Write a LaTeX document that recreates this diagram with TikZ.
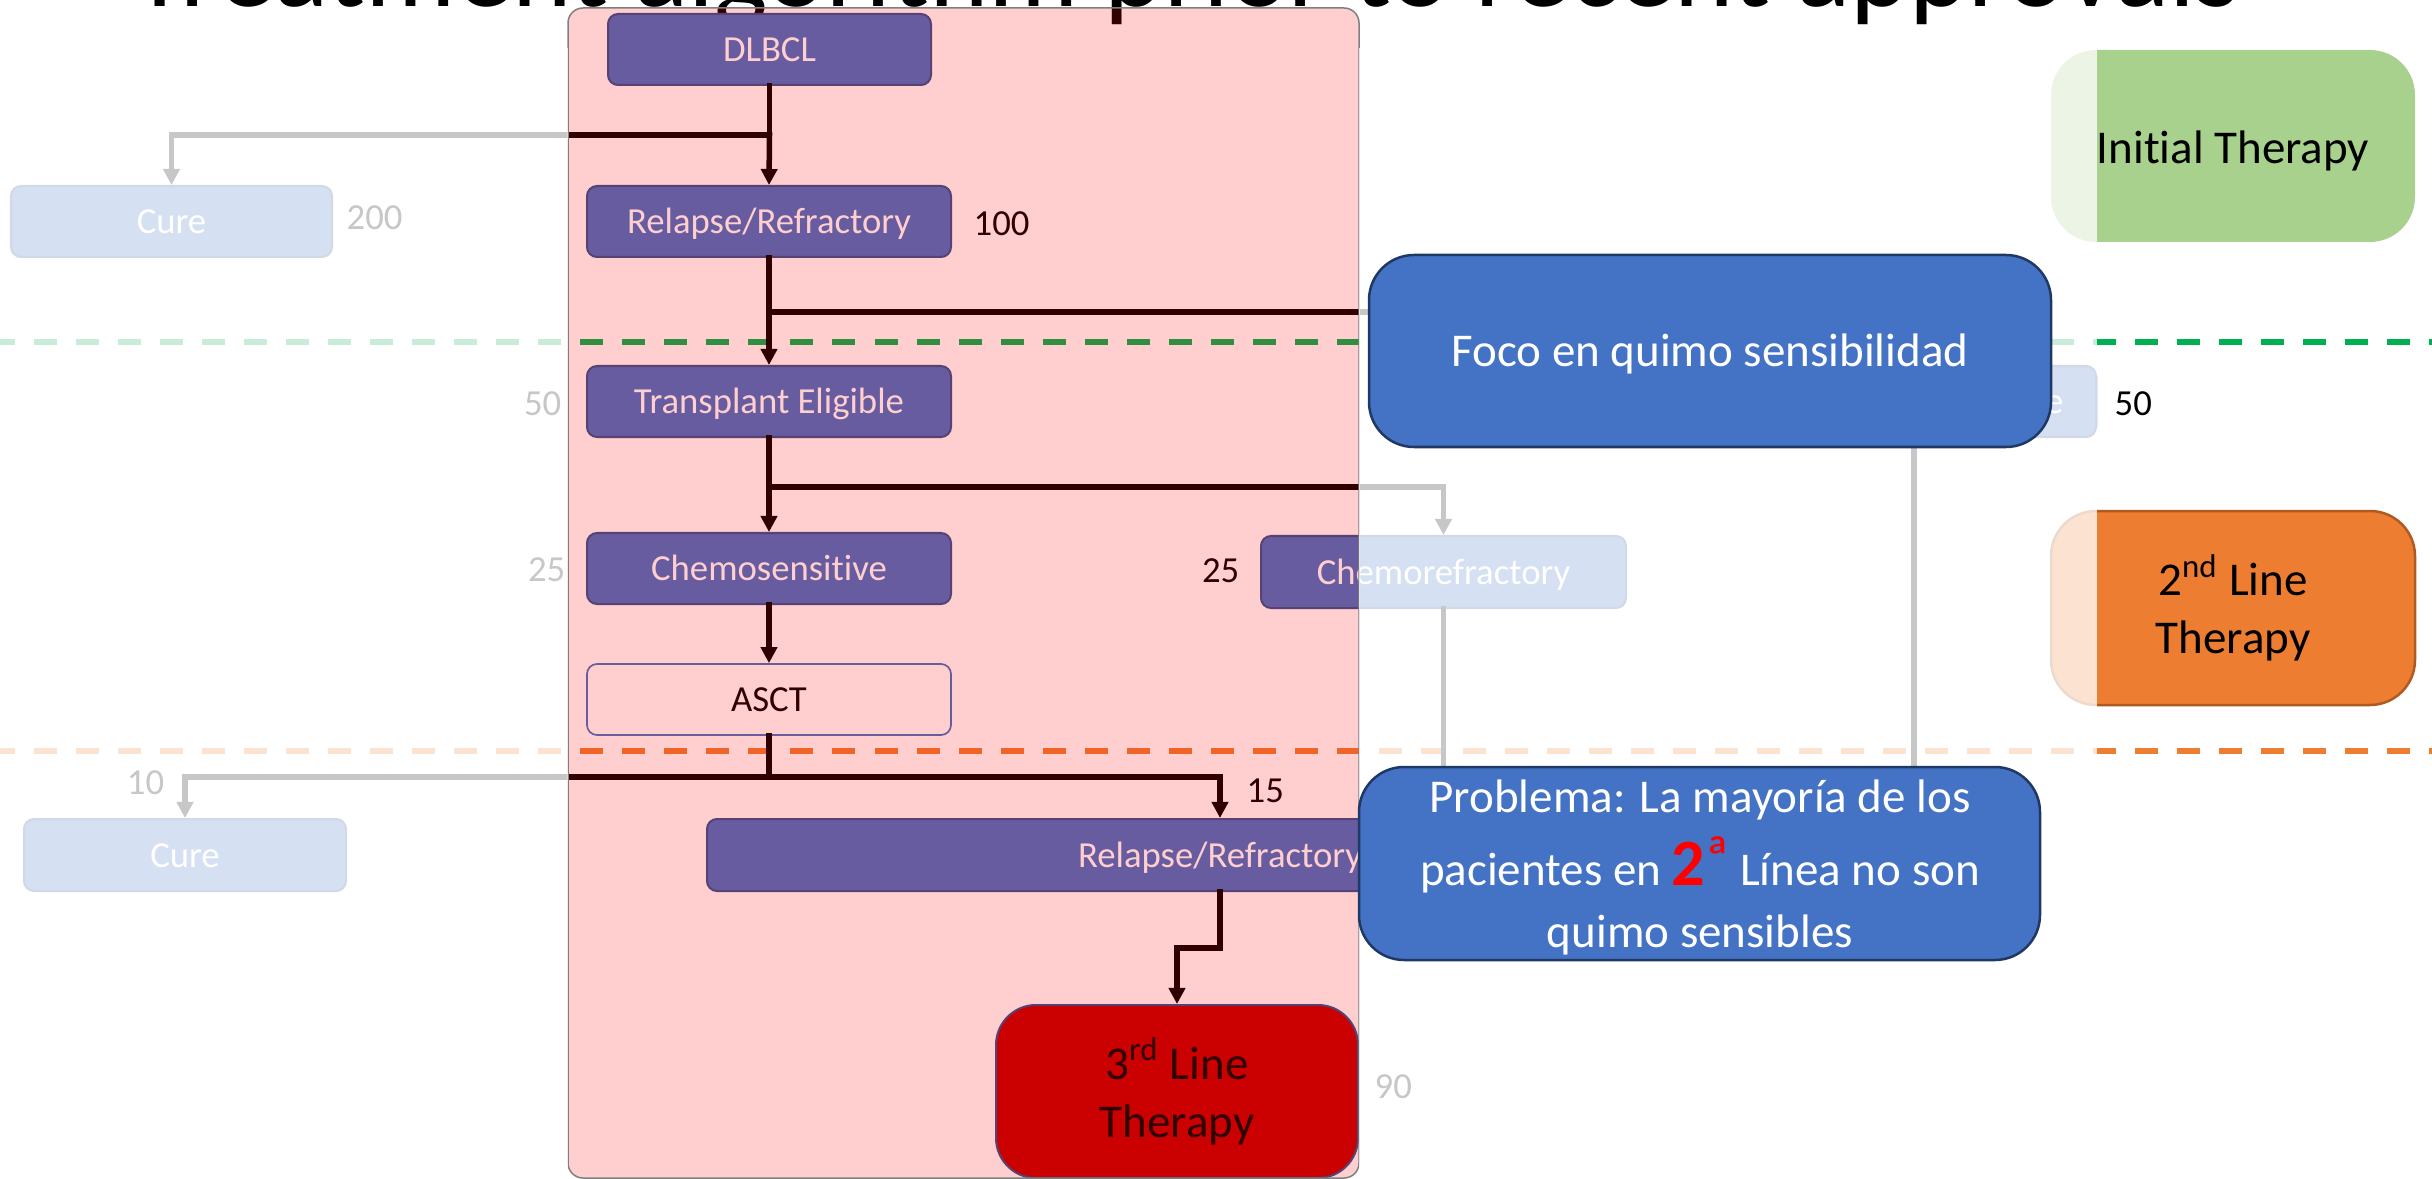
\documentclass[tikz,border=0pt]{standalone}
\usepackage{fontspec}
\setmainfont{Carlito}[Ligatures=NoCommon]
\usetikzlibrary{arrows.meta}

\definecolor{obox}{HTML}{4472C4}
\definecolor{oboxline}{HTML}{2F528F}
\definecolor{calloutline}{HTML}{203864}
\definecolor{ogreen}{HTML}{A9D18E}
\definecolor{oorange}{HTML}{ED7D31}
\definecolor{oorangeline}{HTML}{AE5A21}
\definecolor{guidegreen}{HTML}{00B050}
\definecolor{darkred}{HTML}{C00000}
\definecolor{panelline}{HTML}{7F7F7F}

\newcommand\smallfs{\fontsize{10.44pt}{12.5pt}\selectfont}
\newcommand\largefs{\fontsize{13.37pt}{16.5pt}\selectfont}
\newcommand\lnstrut{\rule[-2.14pt]{0pt}{13.37pt}}

\tikzset{
  sz/.style 2 args={minimum width=#1*0.01cm, minimum height=#2*0.01cm},
  flow/.style={rectangle, rounded corners=0.1cm, fill=obox, draw=oboxline,
    line width=0.02cm, text=white, inner sep=0pt, font=\smallfs,
    text height=8.77pt, text depth=1.67pt},
  bigbox/.style={rectangle, rounded corners=0.45cm, inner sep=0pt,
    font=\largefs, text=black},
  oneline/.style={text height=11.23pt, text depth=2.14pt},
  callout/.style={bigbox, fill=obox, draw=calloutline, line width=0.025cm,
    text=white},
  ptext/.style={inner sep=0pt, text=white, font=\largefs, anchor=base},
  num/.style={inner sep=0pt, text=black, font=\smallfs},
  conn/.style={line width=0.055cm, black, line cap=rect},
  arr/.style={conn, -{Triangle[length=0.16cm, width=0.16cm]}},
  guide/.style={line width=0.055cm, dash pattern=on 0.23cm off 0.19cm,
    dash phase=0.08cm},
  panel/.style={rounded corners=0.15cm, fill=red, fill opacity=0.19,
    draw=panelline, line width=0.015cm},
  veil/.style={fill=white, opacity=0.78}
}

\begin{document}
\begin{tikzpicture}[x=0.01cm, y=-0.01cm]
\useasboundingbox (0,0) rectangle (2432,1179);
\clip (0,0) rectangle (2432,1179);

% heading, mostly above the page edge
\node[anchor=base, inner sep=0pt, font=\fontsize{32.15pt}{38pt}\selectfont]
  (title) at (1186,7) {Treatment algorithm prior to recent approvals};

% line-of-therapy separators
\draw[guide, guidegreen] (0,342) -- (2432,342);
\draw[guide, oorange] (0,751) -- (2432,751);

% therapy line markers
\node[bigbox, text height=11.23pt, text depth=1.2pt, fill=ogreen, sz={364}{192}] (init) at (2233,146) {Initial Therapy};
\node[bigbox, fill=oorange, draw=oorangeline, line width=0.025cm, align=center,
  sz={364}{194}] (second) at (2233,608)
  {\lnstrut 2\textsuperscript{nd} Line\\\lnstrut Therapy};

% flow boxes
\node[flow, sz={323}{71}] (dl) at (769.5,49.5) {DLBCL};
\node[flow, sz={364}{71}] (rr1) at (769,221.5) {Relapse/Refractory};
\node[flow, sz={321}{71}] (cure1) at (171.5,221.5) {Cure};
\node[flow, sz={364}{71}] (te) at (769,401.5) {Transplant Eligible};
\node[flow, sz={364}{71}] (ti) at (1914,401.5) {Transplant Ineligible};
\node[flow, sz={364}{71}] (cs) at (769,568.5) {Chemosensitive};
\node[flow, sz={365}{72}] (cr) at (1443.5,572) {Chemorefractory};
\node[flow, sz={364}{71}, fill=white, draw=obox, text=black, line width=0.017cm]
  (asct) at (769,699.5) {ASCT};
\node[flow, sz={322}{72}] (cure2) at (185,855) {Cure};
\node[flow, sz={1026}{72}] (rr2) at (1220,855) {Relapse/Refractory};
\node[bigbox, rounded corners=0.4cm, fill=darkred, draw=oboxline, line width=0.02cm,
  align=center, sz={362}{173}] (l3) at (1177,1091.5)
  {\lnstrut 3\textsuperscript{rd} Line\\\lnstrut Therapy};

% patient counts
\node[num, anchor=west] (n200) at (346,218) {200};
\node[num, anchor=west] (n100) at (973,224) {100};
\node[num, anchor=east] (n50a) at (562,403.5) {50};
\node[num, anchor=west] (n50b) at (2114,404) {50};
\node[num, anchor=east] (n25a) at (566,569.5) {25};
\node[num, anchor=east] (n25b) at (1240,570.5) {25};
\node[num] (n10) at (145.5,782.5) {10};
\node[num, anchor=west] (n15) at (1246,790.5) {15};
\node[num, anchor=west] (n90) at (1374,1086.5) {90};

% connectors
\coordinate (j1) at (dl.south |- 0,135);
\draw[conn] (dl.south) -- (j1);
\draw[arr] (j1) -| (cure1.north);
\draw[arr] (j1) -- (rr1.north);

\coordinate (j2) at (rr1.south |- 0,312);
\draw[conn] (rr1.south) -- (j2);
\draw[arr] (j2) -- (te.north);
\draw[arr] (j2) -| (ti.north);

\coordinate (j3) at (te.south |- 0,487);
\draw[conn] (te.south) -- (j3);
\draw[arr] (j3) -- (cs.north);
\draw[arr] (j3) -| (cr.north);

\draw[arr] (cs.south) -- (asct.north);

\coordinate (j4) at (asct.south |- 0,777);
\draw[conn] (asct.south) -- (j4);
\draw[arr] (j4) -| (cure2.north);
\draw[arr] (j4) -| (rr2.north);

\coordinate (j5) at (rr2.south |- 0,948);
\draw[arr] (rr2.south) -- (j5) -| (l3.north);

\draw[arr] (cr.south) -- (cr.south |- rr2.north);
\coordinate (j6) at (ti.south |- rr2.east);
\draw[arr] (ti.south) -- (j6) -- (rr2.east);

% highlighted pathway
\draw[panel] (568,8) rectangle (1359,1178);

% faded surroundings
\fill[veil] (0,48) rectangle (568,1179);
\fill[veil] (1359,48) rectangle (2097,1179);

% remarks
\node[callout, oneline, sz={682}{192}] (foco) at (1710,351) {Foco en quimo sensibilidad};
\node[callout, sz={681}{193}] (prob) at (1699.5,863.5) {};
\node[ptext] (pr1) at (1700,812) {Problema: La mayoría de los};
\node[ptext] (pr2) at (1700,885) {pacientes en {\bfseries\color{red}\fontsize{18.8pt}{20pt}\selectfont 2}\raisebox{2pt}{\color{red}\fontsize{17pt}{18pt}\selectfont ª} Línea no son};
\node[ptext] (pr3) at (1700,947) {quimo sensibles};
\end{tikzpicture}
\end{document}
